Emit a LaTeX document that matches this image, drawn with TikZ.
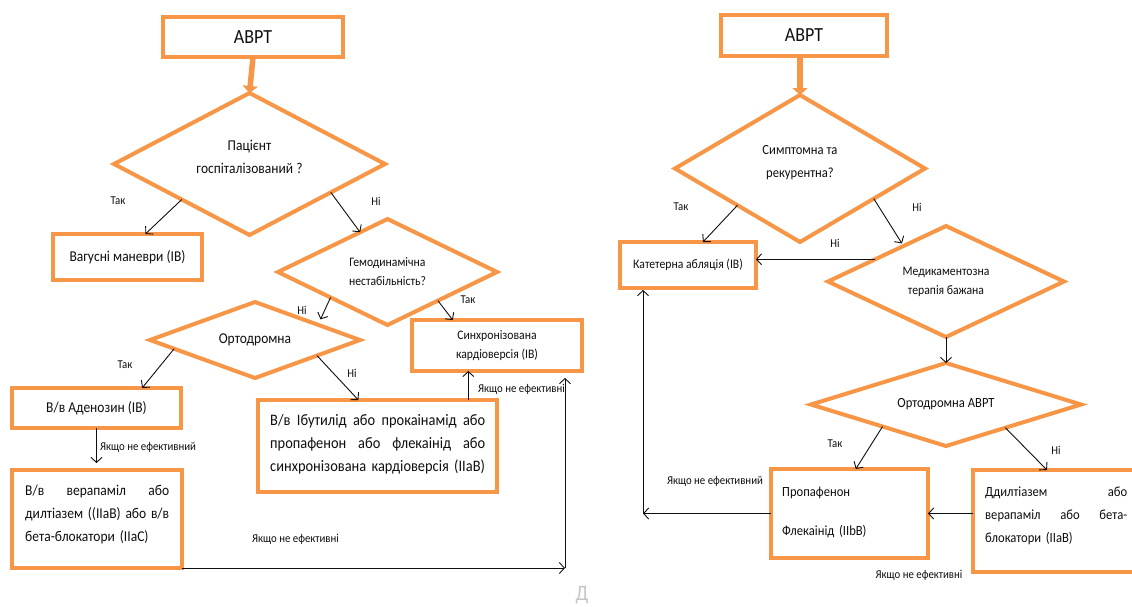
\documentclass[tikz,border=0pt]{standalone}
\usepackage{fontspec}
\setmainfont{Carlito}[FakeStretch=0.9]
\usetikzlibrary{arrows.meta,shapes.geometric,calc}
\definecolor{ora}{RGB}{247,150,70}
\definecolor{ink}{RGB}{15,15,15}
% one fully justified line of a given width; words are separated by \hfill
\newcommand{\JL}[2]{\leavevmode\hbox to #1{#2}}
\begin{document}
\begin{tikzpicture}[x=1pt,y=-1pt,
  box/.style={draw=ora, line width=4pt, rectangle, inner sep=0pt, outer sep=0pt, text=ink, align=center},
  dia/.style={draw=ora, line width=4pt, diamond, inner sep=0pt, outer sep=0pt, text=ink, align=center},
  txt/.style={text=ink, inner sep=0pt, align=left},
  arr/.style={draw=ink, line width=0.9pt, -{Straight Barb[length=5pt,width=11pt]}},
  bigarr/.style={draw=ora, line width=5.5pt, -{Triangle[length=7pt,width=15pt]}},
  lab/.style={text=ink, inner sep=0pt, font=\fontsize{12}{14}\selectfont},
  big/.style={font=\fontsize{20}{24}\selectfont},
  f16/.style={font=\fontsize{16}{23}\selectfont},
  f15/.style={font=\fontsize{15}{23}\selectfont},
  f14/.style={font=\fontsize{14}{23}\selectfont},
  f13/.style={font=\fontsize{13}{19}\selectfont}]
\clip (0,0) rectangle (1132,606);
\fill[white] (0,0) rectangle (1132,606);

% ---------------- left chart ----------------
\node[box, big, minimum width=180, minimum height=40] (avL) at (253,37) {АВРТ};
\node[dia, f15, minimum width=271, minimum height=142, aspect=1.9, text depth=14pt] (d1) at (249.5,164) {Пацієнт\\госпіталізований ?};
\node[box, f15, minimum width=149, minimum height=46] (vag) at (127.5,257) {Вагусні маневри (IB)};
\node[dia, f13, minimum width=219, minimum height=106, aspect=2.1] (d2) at (387.5,272) {Гемодинамічна\\нестабільність?};
\node[box, f13, minimum width=170, minimum height=51] (syn) at (497,345.5) {Синхронізована\\кардіоверсія (IB)};
\node[dia, f15, minimum width=210, minimum height=76, aspect=2.8] (d3) at (255,340) {Ортодромна};
\node[box, f15, minimum width=169, minimum height=40] (aden) at (96.5,408) {В/в Аденозин (IB)};
\node[box, minimum width=170, minimum height=98] (ver) at (97,519) {};
\node[txt, f15, text width=144, anchor=base west] (vertxt) at ($(ver.north west)+(13,25)$)
  {\JL{144pt}{В/в\hfill верапаміл\hfill або}\\
   \JL{144pt}{дилтіазем\hfill ((IIaB)\hfill або\hfill в/в}\\
   бета-блокатори (IIaC)};
\node[box, minimum width=239, minimum height=92] (ibu) at (377.5,446) {};
\node[txt, f16, text width=216, anchor=base west] (ibutxt) at ($(ibu.north west)+(12,25)$)
  {\JL{215pt}{В/в\hfill Ібутилід\hfill або\hfill прокаінамід\hfill або}\\
   \JL{215pt}{пропафенон\hfill або\hfill флекаінід\hfill або}\\
   синхронізована кардіоверсія (IIaB)};

\draw[bigarr] (avL.south) -- (d1.north);
\draw[arr] ($(d1.west)!0.5!(d1.south)$) -- ($(vag.north west)!0.62!(vag.north east)$);
\draw[arr] ($(d1.east)!0.4!(d1.south)$) -- ($(d2.west)!0.75!(d2.north)$);
\draw[arr, shorten >=6pt] ($(d2.west)!0.48!(d2.south)$) -- ($(d3.north)!0.6!(d3.east)$);
\draw[arr] ($(d2.east)!0.54!(d2.south)$) -- ($(syn.north west)!0.24!(syn.north east)$);
\draw[arr] ($(d3.west)!0.23!(d3.south)$) -- ($(aden.north west)!0.77!(aden.north east)$);
\draw[arr] ($(d3.east)!0.41!(d3.south)$) -- ($(ibu.north west)!0.42!(ibu.north east)$);
\draw[arr, shorten >=7pt] (aden.south) -- (aden.south |- ver.north);
\path ($(ibu.north west)!0.88!(ibu.north east)$) coordinate (ibuTop);
\draw[arr] (ibuTop) -- (ibuTop |- syn.south);
\path ($(syn.south east)+(-17,0)$) coordinate (synFoot);
\coordinate (loopCorner) at (synFoot |- ver.south east);
\draw[arr] (ver.south east) -- (loopCorner);
\draw[arr] (loopCorner) -- ($(synFoot)+(0,7)$);

\node[lab] (l1) at (118,201) {Так};
\node[lab] (l2) at (376,201) {Ні};
\node[lab] (l3) at (302,310) {Ні};
\node[lab] (l4) at (468,300) {Так};
\node[lab] (l5) at (125,365) {Так};
\node[lab] (l6) at (352,373) {Ні};
\node[lab, anchor=west] (l7) at (100,447) {Якщо не ефективний};
\node[lab, anchor=west] (l8) at (478,389) {Якщо не ефективні};
\node[lab, anchor=west] (l9) at (252,539) {Якщо не ефективні};
\node[text=black!22, inner sep=0pt, anchor=north, font=\fontsize{22}{26}\selectfont] (wm) at (582,586) {Д};

% ---------------- right chart ----------------
\node[box, big, minimum width=166, minimum height=41] (avR) at (804,35.5) {АВРТ};
\node[dia, f14, minimum width=250, minimum height=147, aspect=1.7, text depth=15pt] (d4) at (800,168.5) {Симптомна та\\рекурентна?};
\node[box, f13, minimum width=136, minimum height=46] (kat) at (688,265) {Катетерна абляція (IB)};
\node[dia, f13, minimum width=236, minimum height=111, aspect=2.1] (d5) at (946,281.5) {Медикаментозна\\терапія бажана};
\node[dia, f14, minimum width=270, minimum height=83, aspect=3.2] (d6) at (946,404.5) {Ортодромна АВРТ};
\node[box, minimum width=157, minimum height=89] (prop) at (849.5,513.5) {};
\node[txt, f14, text width=140, anchor=base west] (proptxt) at ($(prop.north west)+(11,27)$)
  {Пропафенон\\[16pt]Флекаінід (IIbB)};
\node[box, minimum width=172, minimum height=102] (dd) at (1059,521) {};
\node[txt, f14, text width=142, anchor=base west] (ddtxt) at ($(dd.north west)+(12,26)$)
  {\JL{142pt}{Ддилтіазем\hfill або}\\
   \JL{142pt}{верапаміл\hfill або\hfill бета-}\\
   блокатори (IIaB)};

\draw[bigarr] (d4.north |- avR.south) -- (d4.north);
\draw[arr] ($(d4.west)!0.5!(d4.south)$) -- ($(kat.north west)!0.61!(kat.north east)$);
\draw[arr, shorten >=3pt] ($(d4.east)!0.41!(d4.south)$) -- ($(d5.west)!0.64!(d5.north)$);
\path ($(d5.west)!0.4!(d5.north)$) coordinate (d5k);
\draw[arr] (d5k) -- (d5k -| kat.east);
\draw[arr] (d5.south) -- (d6.north);
\draw[arr] ($(d6.west)!0.53!(d6.south)$) -- ($(prop.north west)!0.54!(prop.north east)$);
\draw[arr] ($(d6.east)!0.56!(d6.south)$) -- ($(dd.north west)!0.43!(dd.north east)$);
\draw[arr] (dd.west |- prop.east) -- (prop.east);
\path ($(kat.south west)+(23,0)$) coordinate (katFoot);
\coordinate (rCorner) at (katFoot |- prop.west);
\draw[arr] (prop.west) -- (rCorner);
\draw[arr] (rCorner) -- ($(katFoot)+(0,2)$);

\node[lab] (r1) at (681,207) {Так};
\node[lab] (r2) at (917,207) {Ні};
\node[lab] (r3) at (835,243) {Ні};
\node[lab] (r4) at (835,444) {Так};
\node[lab] (r5) at (1056,450) {Ні};
\node[lab] (r6) at (715,481) {Якщо не ефективний};
\node[lab] (r7) at (919,575) {Якщо не ефективні};
\end{tikzpicture}
\end{document}
